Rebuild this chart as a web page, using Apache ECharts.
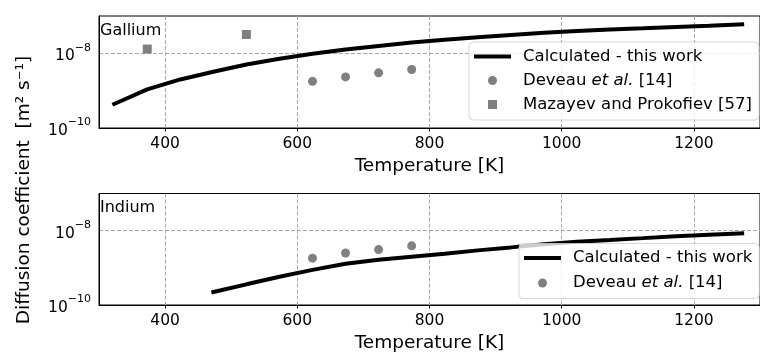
<!DOCTYPE html>
<html>
<head>
<meta charset="utf-8">
<script src="https://cdn.jsdelivr.net/npm/echarts@6/dist/echarts.min.js"></script>
<style>
  html, body { margin: 0; padding: 0; background: #fff; }
  #chart { width: 760px; height: 354px; }
</style>
</head>
<body>
<div id="chart"></div>
<script>
// Gallium: calculated curve, Deveau et al. points, Mazayev & Prokofiev points
const gaTemp = [323, 373, 423, 473, 523, 573, 623, 673, 723, 773, 823, 873, 923, 973, 1023, 1073, 1123, 1173, 1223, 1273];
const gaCalc = [4.4e-10, 1.08e-9, 2.0e-9, 3.2e-9, 5.0e-9, 7.2e-9, 9.8e-9, 1.26e-8, 1.58e-8, 1.95e-8, 2.3e-8, 2.7e-8, 3.1e-8, 3.55e-8, 3.95e-8, 4.35e-8, 4.7e-8, 5.1e-8, 5.5e-8, 6.0e-8];
const gaDeveauTemp = [623, 673, 723, 773];
const gaDeveau = [1.78e-9, 2.34e-9, 3.0e-9, 3.7e-9];
const gaMazayevTemp = [373, 523];
const gaMazayev = [1.3e-8, 3.2e-8];

// Indium: calculated curve, Deveau et al. points
const inTemp = [473, 523, 573, 623, 673, 723, 773, 823, 873, 923, 973, 1023, 1073, 1123, 1173, 1223, 1273];
const inCalc = [2.24e-10, 3.6e-10, 5.75e-10, 8.8e-10, 1.29e-9, 1.66e-9, 2.0e-9, 2.4e-9, 2.95e-9, 3.55e-9, 4.3e-9, 5.0e-9, 5.6e-9, 6.3e-9, 7.1e-9, 7.8e-9, 8.5e-9];
const inDeveauTemp = [623, 673, 723, 773];
const inDeveau = [1.82e-9, 2.5e-9, 3.1e-9, 3.9e-9];

const xTicks = [400, 600, 800, 1000, 1200];
const yLabelled = [-10, -8];

const FONT = "DejaVu Sans";
const GRID_GREY = "#a8a8a8";
const MARK_GREY = "#808080";

const zip = (xs, ys) => xs.map((x, i) => [x, ys[i]]);

function xAxisFor(gridIndex) {
  return {
    type: "value",
    gridIndex,
    min: 300,
    max: 1300,
    name: "Temperature [K]",
    nameLocation: "middle",
    nameGap: 29,
    nameTextStyle: { fontFamily: FONT, fontSize: 18.5, color: "#000" },
    axisLine: { show: true, lineStyle: { color: "#000", width: 1 } },
    axisTick: { show: true, length: 3.5, customValues: xTicks, lineStyle: { color: "#000" } },
    axisLabel: {
      customValues: xTicks,
      formatter: (v) => String(v),
      fontFamily: FONT,
      fontSize: 15.5,
      color: "#000",
      margin: 8,
    },
    splitLine: { show: true, lineStyle: { color: GRID_GREY, type: [4, 2], width: 1 } },
  };
}

function yAxisFor(gridIndex) {
  return {
    type: "log",
    logBase: 10,
    gridIndex,
    min: 1e-10,
    max: 1e-7,
    axisLine: { show: true, lineStyle: { color: "#000", width: 1 } },
    axisTick: { show: false },
    axisLabel: {
      fontFamily: FONT,
      color: "#000",
      margin: 8,
      formatter: (v) => {
        const e = Math.round(Math.log10(v));
        return yLabelled.includes(e) ? "{b|10}{s|\u2212" + -e + "}" : "";
      },
      rich: {
        b: { fontFamily: FONT, fontSize: 15.5, lineHeight: 22, verticalAlign: "bottom", color: "#000" },
        s: { fontFamily: FONT, fontSize: 11, lineHeight: 11, verticalAlign: "top", color: "#000" },
      },
    },
    // ticks at 1e-10, 1e-9, 1e-8, 1e-7: only the 1e-8 line is drawn
    splitLine: {
      show: true,
      lineStyle: { color: ["rgba(0,0,0,0)", "rgba(0,0,0,0)", GRID_GREY, "rgba(0,0,0,0)"], type: [4, 2], width: 1 },
    },
  };
}

const legendIcons = {
  "Calculated - this work": "path://M0,0H37V4H0Z",
  "Mazayev and Prokofiev [57]": "path://M0,0H1V1H0Z",
};

function legendFor(top, left, names, gap, iconTextPad) {
  return {
    orient: "vertical",
    left,
    top,
    padding: [6, 7, 7, 5],
    itemWidth: 37,
    itemHeight: 9,
    itemGap: gap,
    backgroundColor: "rgba(255,255,255,0.8)",
    borderColor: "rgba(204,204,204,0.8)",
    borderWidth: 1,
    borderRadius: 4,
    selectedMode: false,
    data: names.map((n) => (legendIcons[n] ? { name: n, icon: legendIcons[n] } : { name: n })),
    formatter: (n) => n.replace("et al.", "{i|et al.}"),
    textStyle: {
      fontFamily: FONT,
      fontSize: 16.5,
      lineHeight: 16,
      color: "#000",
      padding: [0, 0, 0, iconTextPad],
      rich: { i: { fontFamily: FONT, fontSize: 16.5, lineHeight: 16, fontStyle: "italic", color: "#000" } },
    },
  };
}

const chart = echarts.init(document.getElementById("chart"), null, { renderer: "canvas" });

chart.setOption({
  animation: false,
  backgroundColor: "#fff",
  grid: [
    { left: 99, right: -7, top: 16, height: 112, show: true, borderColor: "#000", borderWidth: 1 },
    { left: 99, right: -7, top: 193.5, height: 112, show: true, borderColor: "#000", borderWidth: 1 },
  ],
  xAxis: [xAxisFor(0), xAxisFor(1)],
  yAxis: [yAxisFor(0), yAxisFor(1)],
  legend: [
    legendFor(42, 469, ["Calculated - this work", "Deveau et al. [14]", "Mazayev and Prokofiev [57]"], 7, 7),
    legendFor(243.5, 519, ["Calculated - this work", "Deveau et al. [14]"], 8, 7),
  ],
  graphic: [
    {
      type: "text",
      left: 100,
      top: 23,
      style: { text: "Gallium", font: "16px " + FONT, fill: "#000" },
    },
    {
      type: "text",
      left: 100,
      top: 200,
      style: { text: "Indium", font: "16px " + FONT, fill: "#000" },
    },
    {
      type: "text",
      x: 24,
      y: 190,
      rotation: Math.PI / 2,
      style: {
        text: "Diffusion coefficient  [m\u00b2 s\u207b\u00b9]",
        font: "18.5px " + FONT,
        fill: "#000",
        align: "center",
        verticalAlign: "middle",
      },
    },
  ],
  series: [
    {
      name: "Calculated - this work",
      type: "line",
      xAxisIndex: 0,
      yAxisIndex: 0,
      data: zip(gaTemp, gaCalc),
      showSymbol: false,
      symbol: "none",
      itemStyle: { color: "#000" },
      lineStyle: { color: "#000", width: 4, cap: "square" },
      z: 3,
    },
    {
      name: "Deveau et al. [14]",
      type: "scatter",
      xAxisIndex: 0,
      yAxisIndex: 0,
      data: zip(gaDeveauTemp, gaDeveau),
      symbol: "circle",
      symbolSize: 9,
      itemStyle: { color: MARK_GREY, opacity: 1 },
    },
    {
      name: "Mazayev and Prokofiev [57]",
      type: "scatter",
      xAxisIndex: 0,
      yAxisIndex: 0,
      data: zip(gaMazayevTemp, gaMazayev),
      symbol: "rect",
      symbolSize: 9,
      itemStyle: { color: MARK_GREY, opacity: 1 },
    },
    {
      name: "Calculated - this work",
      type: "line",
      xAxisIndex: 1,
      yAxisIndex: 1,
      data: zip(inTemp, inCalc),
      showSymbol: false,
      symbol: "none",
      itemStyle: { color: "#000" },
      lineStyle: { color: "#000", width: 4, cap: "square" },
      z: 3,
    },
    {
      name: "Deveau et al. [14]",
      type: "scatter",
      xAxisIndex: 1,
      yAxisIndex: 1,
      data: zip(inDeveauTemp, inDeveau),
      symbol: "circle",
      symbolSize: 9,
      itemStyle: { color: MARK_GREY, opacity: 1 },
    },
  ],
});
</script>
</body>
</html>
